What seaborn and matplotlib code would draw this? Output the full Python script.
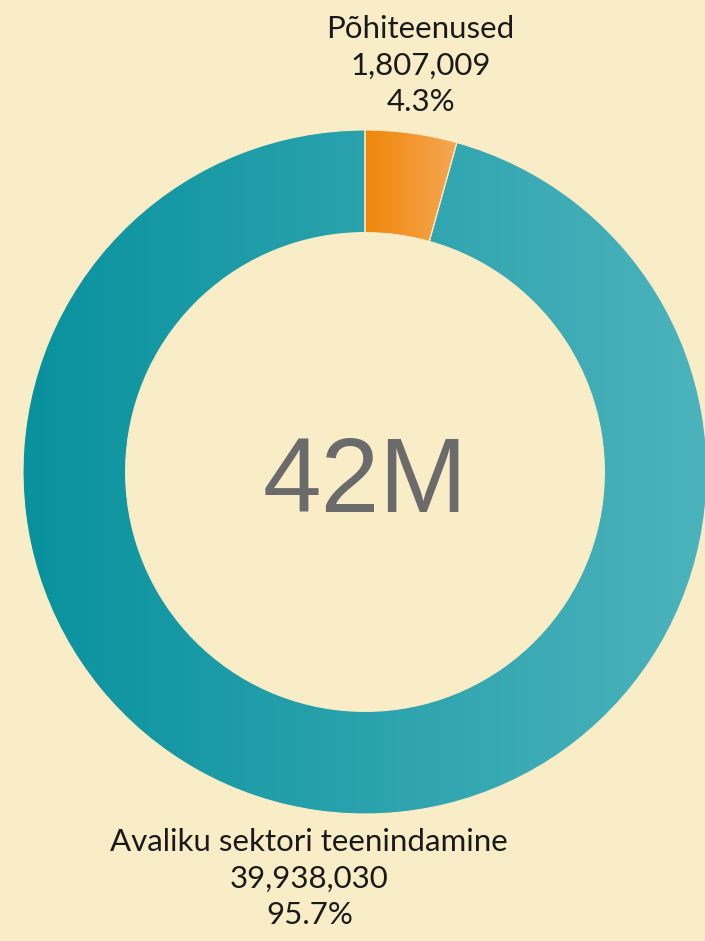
import numpy as np
import matplotlib
matplotlib.use("Agg")
import matplotlib.pyplot as plt
import seaborn as sns

labels = ["Põhiteenused", "Avaliku sektori teenindamine"]
values = [1807009, 39938030]
grad_colors = [("#F0860A", "#F5A754"), ("#08929E", "#4CB3BC")]
center_label = "42M"

bg = "#F9EDC7"

sns.set_theme(style="white")
plt.rcParams["font.family"] = ["Lato", "DejaVu Sans"]

fig = plt.figure(figsize=(7.05, 9.41), dpi=100, facecolor=bg)
ax = fig.add_axes([0, 0, 1, 1])
ax.set_facecolor(bg)

wedges, _ = ax.pie(
    values,
    startangle=90,
    counterclock=False,
    radius=1.0,
    wedgeprops=dict(width=0.3, edgecolor=bg, linewidth=0.8),
)

# horizontal gradient fill clipped to each wedge
grad = np.linspace(0, 1, 256).reshape(1, -1)
for w, (c0, c1) in zip(wedges, grad_colors):
    cmap = sns.blend_palette([c0, c1], as_cmap=True)
    bb = w.get_path().get_extents()
    w.set_facecolor("none")
    im = ax.imshow(grad, cmap=cmap, aspect="auto",
                   extent=[bb.x0, bb.x1, bb.y0, bb.y1], zorder=1)
    im.set_clip_path(w)
    w.set_zorder(2)

total = sum(values)
for w, lab, v in zip(wedges, labels, values):
    ang = np.deg2rad((w.theta1 + w.theta2) / 2)
    x, y = 1.2 * np.cos(ang), 1.2 * np.sin(ang)
    ax.text(x, y, f"{lab}\n{v:,}\n{v / total * 100:.1f}%",
            ha="center", va="center", fontsize=22.5, color="#1a1a1a",
            linespacing=1.38)

ax.text(0, -0.117, center_label, ha="center", va="baseline", fontsize=76,
        color="#6B6B6B", family=["Liberation Sans", "DejaVu Sans"])

s = 342.0
ax.set_xlim(-365 / s, (705 - 365) / s)
ax.set_ylim(-(941 - 472) / s, 472 / s)
ax.set_aspect("equal")
ax.axis("off")

fig.savefig("out.png", dpi=100, facecolor=bg)
